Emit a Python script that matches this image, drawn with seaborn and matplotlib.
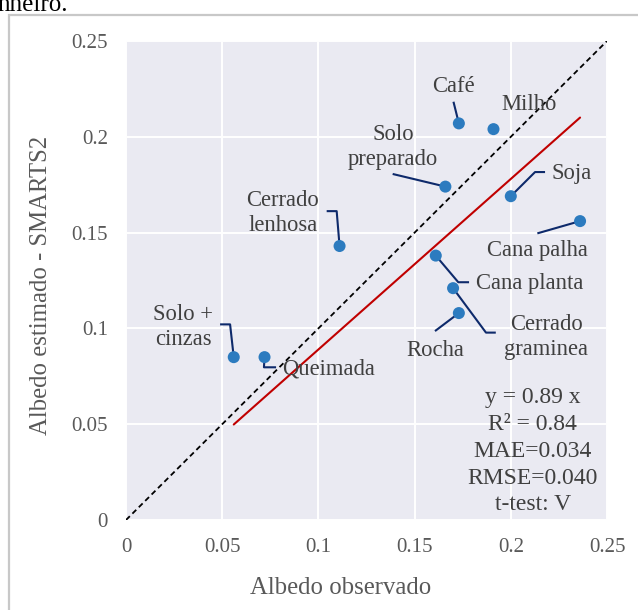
import matplotlib
matplotlib.use("Agg")
import matplotlib.pyplot as plt
import seaborn as sns
import pandas as pd
import numpy as np
from matplotlib.patches import Rectangle

# ---------------- data ----------------
labels = ["Café", "Milho", "Solo\npreparado", "Soja", "Cana palha", "Cana planta",
          "Cerrado\ngraminea", "Rocha", "Cerrado\nlenhosa", "Solo +\ncinzas", "Queimada"]
observed = [0.173, 0.191, 0.166, 0.200, 0.236, 0.161, 0.170, 0.173, 0.111, 0.056, 0.072]
estimated = [0.207, 0.204, 0.174, 0.169, 0.156, 0.138, 0.121, 0.108, 0.143, 0.085, 0.085]
slope = 0.89
stats_lines = ["y = 0.89 x", "R² = 0.84", "MAE=0.034", "RMSE=0.040", "t-test: V"]
tick_values = [0, 0.05, 0.1, 0.15, 0.2, 0.25]
tick_labels = ["0", "0.05", "0.1", "0.15", "0.2", "0.25"]

# ---------------- layout (label text centres and leader-line vertices, data units) ----------------
label_layout = {
    "Café":               dict(text=(0.1700, 0.2265), leader=[(0.1702, 0.2183)]),
    "Milho":              dict(text=(0.2095, 0.2166), leader=[]),
    "Solo\npreparado":    dict(text=(0.1388, 0.1947), leader=[(0.1386, 0.1806)]),
    "Soja":               dict(text=(0.2318, 0.1806), leader=[(0.2178, 0.1816), (0.2126, 0.1816)]),
    "Cana palha":         dict(text=(0.2136, 0.1409), leader=[(0.2138, 0.1496)]),
    "Cana planta":        dict(text=(0.2100, 0.1232), leader=[(0.1783, 0.1241), (0.1727, 0.1241)]),
    "Cerrado\ngraminea":  dict(text=(0.2183, 0.0955), leader=[(0.1922, 0.0978), (0.1871, 0.0978)]),
    "Rocha":              dict(text=(0.1606, 0.0887), leader=[(0.1606, 0.0986)]),
    "Cerrado\nlenhosa":   dict(text=(0.0816, 0.1602), leader=[(0.1043, 0.1612), (0.1095, 0.1612)]),
    "Solo +\ncinzas":     dict(text=(0.0296, 0.1007), leader=[(0.0489, 0.1021), (0.0541, 0.1021)]),
    "Queimada":           dict(text=(0.1055, 0.0788), leader=[(0.0780, 0.0797), (0.0717, 0.0797)]),
}

df = pd.DataFrame({"label": labels, "observed": observed, "estimated": estimated})

sns.set_theme(style="darkgrid", rc={"axes.facecolor": "#EAEAF2", "grid.color": "white",
                                     "grid.linewidth": 1.4})
plt.rcParams["font.family"] = ["Liberation Serif", "DejaVu Serif"]

W, H = 638, 610
fig = plt.figure(figsize=(W / 100, H / 100), dpi=100)
fig.patch.set_facecolor("white")
ax = fig.add_axes([126 / W, 1 - 520 / H, 481 / W, 479 / H])

# figure frame (document border) and cropped text above it
fig.patches.append(Rectangle((9 / W, -0.05), 1.2, 1 - 15 / H + 0.05, transform=fig.transFigure,
                             fill=False, edgecolor="#C8C8C8", linewidth=1.6, zorder=-1))
fig.text(-0.004, 1 - 11 / H, "nheiro.", fontsize=18, color="black", va="baseline", ha="left")

# 1:1 line
ax.plot([0, 0.25], [0, 0.25], linestyle=(0, (3, 2)), color="black", linewidth=1.3, zorder=3)
# fit line
xfit = np.array([min(observed), max(observed)])
ax.plot(xfit, slope * xfit, color="#C00000", linewidth=1.5, zorder=3)

sns.scatterplot(data=df, x="observed", y="estimated", ax=ax, s=75, color="#2C7BBF",
                edgecolor="none", linewidth=0, zorder=5, legend=False)

lead_col = "#0E2A6B"
for lab, xo, yo in zip(labels, observed, estimated):
    lay = label_layout[lab]
    tx, ty = lay["text"]
    ax.text(tx, ty, lab, ha="center", va="center", fontsize=16.3, color="#404040",
            linespacing=1.2, zorder=6)
    if lay["leader"]:
        pts = lay["leader"] + [(xo, yo)]
        ax.plot([p[0] for p in pts], [p[1] for p in pts], color=lead_col, linewidth=1.5,
                zorder=4, solid_capstyle="butt")

# stats block
y0_px = 398
for i, line in enumerate(stats_lines):
    ypx = y0_px + i * 26.7
    ax.text(0.2115, (520 - ypx) / 1916, line, ha="center", va="center", fontsize=17,
            color="#404040", zorder=6)

ax.set_xlim(0, 0.25)
ax.set_ylim(0, 0.25)
ax.set_xticks(tick_values)
ax.set_xticklabels(tick_labels)
ax.set_yticks(tick_values)
ax.set_yticklabels(tick_labels)
ax.tick_params(axis="both", labelsize=15, colors="#595959", length=0)
ax.tick_params(axis="x", pad=13)
ax.tick_params(axis="y", pad=13)
for s in ax.spines.values():
    s.set_visible(False)

ax.set_xlabel("Albedo observado", fontsize=17.8, color="#595959")
ax.set_ylabel("Albedo estimado - SMARTS2", fontsize=17.8, color="#595959")
ax.xaxis.set_label_coords(0.447, -0.118)
ax.yaxis.set_label_coords(-0.154, 0.49)

fig.savefig("out.png", dpi=100, facecolor="white")
